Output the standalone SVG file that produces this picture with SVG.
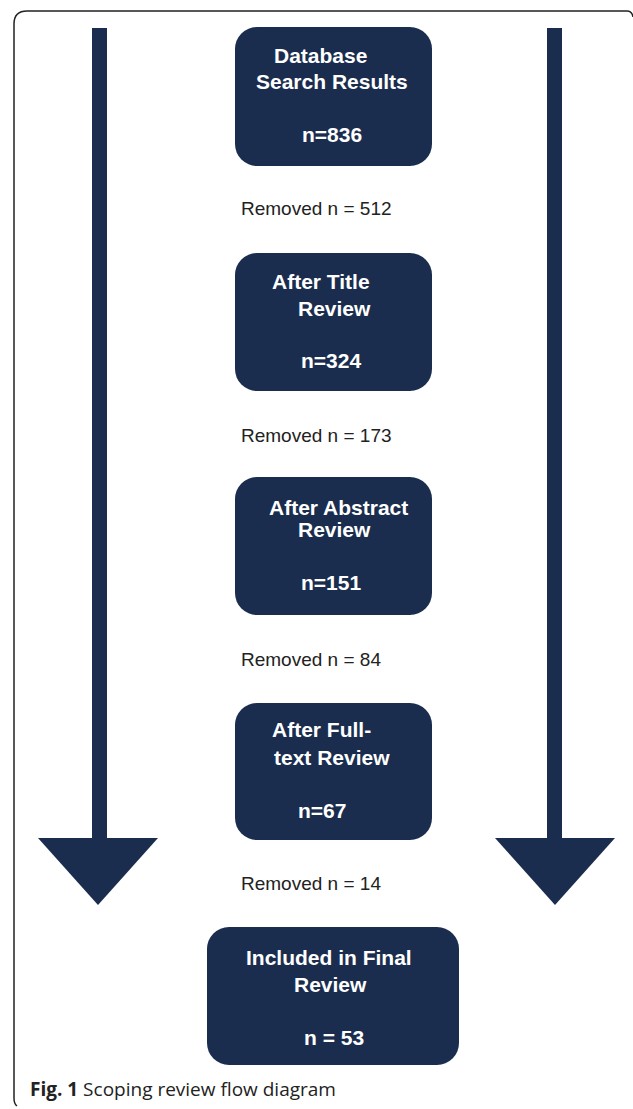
<svg xmlns="http://www.w3.org/2000/svg" width="633" height="1109" viewBox="0 0 633 1109">
<defs>
<style>
.box{fill:#1b2d4e;}
.arr{fill:#1b2d4e;}
.bt{font-family:"Liberation Sans",Arial,sans-serif;font-weight:bold;font-size:21px;fill:#ffffff;}
.rm{font-family:"Liberation Sans",Arial,sans-serif;font-size:19px;fill:#222222;}
.cap{font-family:"Open Sans","Noto Sans",sans-serif;font-size:19px;fill:#222222;}
.frame{fill:none;stroke:#222222;stroke-width:1.5;}
</style>
</defs>
<rect width="633" height="1109" fill="#ffffff"/>
<path class="frame" d="M17,1106 Q14,1104 14,1098 V24 Q14,11 27,11 H627 Q632,11 633,17"/>
<g id="connectors">
<g id="arrow-left">
<rect class="arr" x="92" y="28" width="15" height="811"/>
<polygon class="arr" points="38,838 158,838 98,905"/>
</g>
<g id="arrow-right">
<rect class="arr" x="547" y="28" width="15" height="811"/>
<polygon class="arr" points="495,838 615,838 555,905"/>
</g>
</g>
<g id="node-database">
<rect class="box" x="235" y="27" width="197" height="139" rx="22"/>
<text class="bt" x="274" y="63">Database</text>
<text class="bt" x="256" y="89">Search Results</text>
<text class="bt" x="302" y="142">n=836</text>
</g>
<g id="label-512"><text class="rm" x="241" y="215">Removed n = 512</text></g>
<g id="node-title">
<rect class="box" x="235" y="253" width="197" height="138" rx="22"/>
<text class="bt" x="272" y="289">After Title</text>
<text class="bt" x="298" y="316">Review</text>
<text class="bt" x="301" y="368">n=324</text>
</g>
<g id="label-173"><text class="rm" x="241" y="442">Removed n = 173</text></g>
<g id="node-abstract">
<rect class="box" x="235" y="477" width="197" height="138" rx="22"/>
<text class="bt" x="269" y="515">After Abstract</text>
<text class="bt" x="298" y="537">Review</text>
<text class="bt" x="301" y="590">n=151</text>
</g>
<g id="label-84"><text class="rm" x="241" y="666">Removed n = 84</text></g>
<g id="node-fulltext">
<rect class="box" x="235" y="703" width="197" height="137" rx="22"/>
<text class="bt" x="272" y="737">After Full-</text>
<text class="bt" x="274" y="765">text Review</text>
<text class="bt" x="298" y="818">n=67</text>
</g>
<g id="label-14"><text class="rm" x="241" y="890">Removed n = 14</text></g>
<g id="node-final">
<rect class="box" x="207" y="927" width="252" height="138" rx="22"/>
<text class="bt" x="246" y="965">Included in Final</text>
<text class="bt" x="294" y="992">Review</text>
<text class="bt" x="304" y="1045">n = 53</text>
</g>
<text class="cap" x="30" y="1096"><tspan font-weight="bold">Fig. 1</tspan> Scoping review flow diagram</text>
</svg>
